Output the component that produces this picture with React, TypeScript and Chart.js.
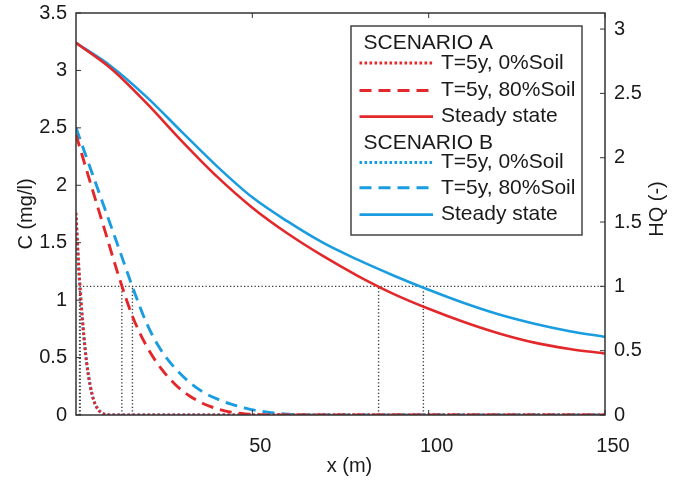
import React, { useEffect, useRef } from 'react';
import { Chart, registerables } from 'chart.js';

Chart.register(...registerables);

// ---- data ----
const xSteady = [0, 10, 20, 30, 40, 50, 60, 70, 80, 90, 100, 110, 120, 130, 140, 150];
const cSteadyA = [3.24, 3.015, 2.715, 2.385, 2.075, 1.805, 1.58, 1.385, 1.21, 1.055, 0.925, 0.81, 0.71, 0.63, 0.575, 0.535];
const cSteadyB = [3.24, 3.035, 2.77, 2.465, 2.165, 1.895, 1.685, 1.5, 1.35, 1.215, 1.09, 0.975, 0.875, 0.795, 0.73, 0.68];

const xDash = [0, 4, 8, 12, 16, 20, 24, 28, 32, 36, 40, 44, 48, 52, 56, 60, 64, 68, 150];
const cDashA = [2.44, 2.03, 1.625, 1.22, 0.86, 0.6, 0.41, 0.27, 0.17, 0.1, 0.055, 0.025, 0.01, 0.003, 0, 0, 0, 0, 0];
const cDashB = [2.5, 2.155, 1.81, 1.465, 1.117, 0.8, 0.57, 0.41, 0.29, 0.2, 0.14, 0.095, 0.06, 0.035, 0.018, 0.007, 0.002, 0, 0];

const xDot = [0, 0.5, 1, 1.5, 2, 2.5, 3, 4, 5, 6, 7, 8, 10, 150];
const cDotA = [1.76, 1.45, 1.18, 0.96, 0.77, 0.6, 0.46, 0.26, 0.13, 0.06, 0.025, 0.008, 0, 0];
const cDotB = [1.72, 1.42, 1.16, 0.95, 0.76, 0.6, 0.46, 0.26, 0.13, 0.06, 0.025, 0.008, 0, 0];

const cRef = 1.12; // concentration for HQ = 1
const xCross = [1.0, 1.2, 13, 16, 85.8, 98.5];

const xTicks = [50, 100, 150];
const cTicks = [0, 0.5, 1, 1.5, 2, 2.5, 3, 3.5];
const hqTicks = [0, 0.5, 1, 1.5, 2, 2.5, 3];

const scenarioTitles = ['SCENARIO A', 'SCENARIO B'];
const caseLabels = ['T=5y, 0%Soil', 'T=5y, 80%Soil', 'Steady state'];

const RED = '#e2282a';
const BLUE = '#1a9de0';
const FONT = "'Liberation Sans', Arial, Helvetica, sans-serif";

const pts = (xs: number[], ys: number[]) => xs.map((x, i) => ({ x, y: ys[i] }));

const styleDot = { borderWidth: 3, borderDash: [2.6, 2.4] };
const styleDash = { borderWidth: 2.9, borderDash: [12, 7] };
const styleSolid = { borderWidth: 2.6, borderDash: [] as number[] };

const fmt = (v: any) => String(Number(v));

export default function App() {
  const ref = useRef<HTMLCanvasElement | null>(null);

  useEffect(() => {
    const canvas = ref.current;
    if (!canvas) return;

    const curve = (label: string, xs: number[], ys: number[], color: string, st: any) => ({
      label,
      data: pts(xs, ys),
      borderColor: color,
      backgroundColor: color,
      borderWidth: st.borderWidth,
      borderDash: st.borderDash,
      pointRadius: 0,
      fill: false,
      cubicInterpolationMode: 'monotone',
      yAxisID: 'y',
    });

    const refLine = (data: { x: number; y: number }[]) => ({
      label: '',
      data,
      borderColor: '#3a3a3a',
      borderWidth: 1.4,
      borderDash: [1.3, 2.2],
      pointRadius: 0,
      fill: false,
      tension: 0,
      yAxisID: 'y',
    });

    const datasets: any[] = [
      curve(caseLabels[0], xDot, cDotA, RED, styleDot),
      curve(caseLabels[1], xDash, cDashA, RED, styleDash),
      curve(caseLabels[2], xSteady, cSteadyA, RED, styleSolid),
      curve(caseLabels[0], xDot, cDotB, BLUE, styleDot),
      curve(caseLabels[1], xDash, cDashB, BLUE, styleDash),
      curve(caseLabels[2], xSteady, cSteadyB, BLUE, styleSolid),
      refLine([{ x: 0, y: cRef }, { x: 150, y: cRef }]),
      ...xCross.map((xc) => refLine([{ x: xc, y: 0 }, { x: xc, y: cRef }])),
    ];

    const framePlugin = {
      id: 'framePlugin',
      afterDatasetsDraw(chart: any) {
        const { ctx, chartArea: a, scales } = chart;
        ctx.save();
        // frame
        ctx.strokeStyle = '#333';
        ctx.lineWidth = 1.5;
        ctx.setLineDash([]);
        ctx.strokeRect(a.left, a.top, a.right - a.left, a.bottom - a.top);
        // inner ticks
        ctx.lineWidth = 1;
        ctx.beginPath();
        cTicks.forEach((v) => {
          const y = scales.y.getPixelForValue(v);
          ctx.moveTo(a.left, y);
          ctx.lineTo(a.left + 5, y);
        });
        hqTicks.forEach((v) => {
          const y = scales.y2.getPixelForValue(v);
          ctx.moveTo(a.right, y);
          ctx.lineTo(a.right - 5, y);
        });
        xTicks.forEach((v) => {
          const x = scales.x.getPixelForValue(v);
          ctx.moveTo(x, a.bottom);
          ctx.lineTo(x, a.bottom - 5);
          ctx.moveTo(x, a.top);
          ctx.lineTo(x, a.top + 5);
        });
        ctx.stroke();

        // axis titles
        ctx.fillStyle = '#1a1a1a';
        ctx.font = `20px ${FONT}`;
        ctx.textAlign = 'center';
        ctx.textBaseline = 'middle';
        ctx.fillText('x (m)', (a.left + a.right) / 2 + 9, 466);
        ctx.save();
        ctx.translate(26, (a.top + a.bottom) / 2);
        ctx.rotate(-Math.PI / 2);
        ctx.fillText('C (mg/l)', 0, 0);
        ctx.restore();
        ctx.save();
        ctx.translate(657, (a.top + a.bottom) / 2 - 5);
        ctx.rotate(-Math.PI / 2);
        ctx.fillText('HQ (-)', 0, 0);
        ctx.restore();

        // legend
        const bx = 351, by = 26, bw = 231, bh = 209;
        ctx.fillStyle = '#fff';
        ctx.fillRect(bx, by, bw, bh);
        ctx.strokeStyle = '#444';
        ctx.lineWidth = 1.5;
        ctx.strokeRect(bx, by, bw, bh);
        const rowY = [17.5, 37, 64.5, 90.6, 117.5, 136.6, 161.8, 188.6];
        ctx.font = `21px ${FONT}`;
        ctx.textAlign = 'left';
        ctx.textBaseline = 'middle';
        for (let g = 0; g < 2; g++) {
          ctx.fillStyle = '#1a1a1a';
          ctx.fillText(scenarioTitles[g], bx + 12.5, by + rowY[g * 4]);
          for (let k = 0; k < 3; k++) {
            const ds = chart.data.datasets[g * 3 + k];
            const y = by + rowY[g * 4 + 1 + k];
            ctx.save();
            ctx.strokeStyle = ds.borderColor;
            ctx.lineWidth = ds.borderWidth;
            ctx.setLineDash(ds.borderDash || []);
            ctx.beginPath();
            ctx.moveTo(bx + 8.5, y);
            ctx.lineTo(bx + 82, y);
            ctx.stroke();
            ctx.restore();
            ctx.fillStyle = '#1a1a1a';
            ctx.fillText(ds.label, bx + 90, y);
          }
        }
        ctx.restore();
      },
    };

    const tickFont = { family: FONT, size: 20 };
    const noPadV = (s: any, w: number) => {
      s.width = w;
      s.paddingTop = 0;
      s.paddingBottom = 0;
    };

    const chart = new Chart(canvas, {
      type: 'line',
      data: { datasets },
      options: {
        responsive: false,
        animation: false,
        devicePixelRatio: 1,
        layout: { padding: { top: 13, left: 0, right: 0, bottom: 0 } },
        plugins: { legend: { display: false }, tooltip: { enabled: false } },
        scales: {
          x: {
            type: 'linear',
            min: 0,
            max: 150,
            grid: { display: false, drawTicks: false },
            border: { display: false },
            afterBuildTicks: (s: any) => {
              s.ticks = xTicks.map((v) => ({ value: v }));
            },
            afterFit: (s: any) => {
              s.height = 66;
              s.paddingLeft = 0;
              s.paddingRight = 0;
            },
            ticks: { font: tickFont, color: '#1a1a1a', padding: 19, labelOffset: 8, maxRotation: 0, callback: fmt },
          },
          y: {
            type: 'linear',
            position: 'left',
            min: 0,
            max: 3.5,
            grid: { display: false, drawTicks: false },
            border: { display: false },
            afterBuildTicks: (s: any) => {
              s.ticks = cTicks.map((v) => ({ value: v }));
            },
            afterFit: (s: any) => noPadV(s, 76),
            ticks: { font: tickFont, color: '#1a1a1a', padding: 9, callback: fmt },
          },
          y2: {
            type: 'linear',
            position: 'right',
            min: 0,
            max: 3.5 / cRef,
            grid: { display: false, drawTicks: false },
            border: { display: false },
            afterBuildTicks: (s: any) => {
              s.ticks = hqTicks.map((v) => ({ value: v }));
            },
            afterFit: (s: any) => noPadV(s, 70),
            ticks: { font: tickFont, color: '#1a1a1a', padding: 9, callback: fmt },
          },
        },
      },
      plugins: [framePlugin],
    } as any);

    return () => chart.destroy();
  }, []);

  return (
    <div style={{ position: 'fixed', left: 0, top: 0, width: 675, height: 481, background: '#fff' }}>
      <canvas ref={ref} width={675} height={481} style={{ display: 'block', width: 675, height: 481 }} />
    </div>
  );
}
